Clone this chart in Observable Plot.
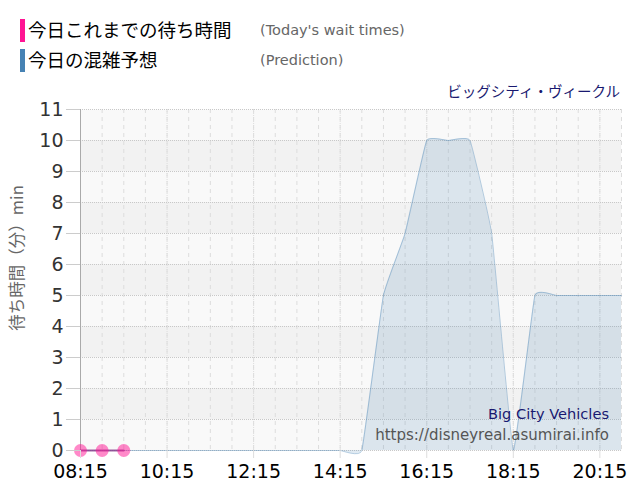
<!DOCTYPE html>
<html>
<head>
<meta charset="utf-8">
<script src="https://cdn.jsdelivr.net/npm/d3@7"></script>
<script src="https://cdn.jsdelivr.net/npm/@observablehq/plot@0.6"></script>
<style>
  html, body { margin: 0; padding: 0; background: #fff; }
  #wrap { position: relative; width: 640px; height: 500px; overflow: hidden; }
  #chart { position: absolute; left: 0; top: 0; }
  .leg { position: absolute; left: 20px; height: 23px; white-space: nowrap; }
  .leg .bar { position: absolute; left: 0; top: 0; width: 5px; height: 23px; }
  .leg .jp { position: absolute; left: 8px; top: -1px; font-family: "Noto Sans CJK JP", sans-serif; font-size: 18.5px; line-height: 23px; color: #000; }
  .leg .en { position: absolute; left: 240px; top: 0; font-family: "DejaVu Sans", sans-serif; font-size: 14.5px; line-height: 23px; color: #666; }
  .ov { position: absolute; white-space: nowrap; text-align: right; }
</style>
</head>
<body>
<div id="wrap">
  <div id="chart"></div>
  <div class="leg" style="top:19px"><div class="bar" style="background:#ff1493"></div><div class="jp">今日これまでの待ち時間</div><div class="en">(Today's wait times)</div></div>
  <div class="leg" style="top:49px"><div class="bar" style="background:#4682b4"></div><div class="jp">今日の混雑予想</div><div class="en">(Prediction)</div></div>
  <div class="ov" style="right:20px; top:80px; font-family:'Noto Sans CJK JP',sans-serif; font-size:14.5px; color:#191970;">ビッグシティ・ヴィークル</div>
  <div class="ov" style="right:31px; top:405px; font-family:'DejaVu Sans',sans-serif; font-size:14.6px; color:#191970;">Big City Vehicles</div>
  <div class="ov" style="right:31px; top:426px; font-family:'DejaVu Sans',sans-serif; font-size:15px; color:#555;">https://disneyreal.asumirai.info</div>
</div>
<script>
// ---- data ----
const predTimes = ["08:15","08:45","09:15","09:45","10:15","10:45","11:15","11:45","12:15","12:45","13:15","13:45","14:15","14:45","15:15","15:45","16:15","16:45","17:15","17:45","18:15","18:45","19:15","19:45","20:15","20:45"];
const predValues = [0,0,0,0,0,0,0,0,0,0,0,0,0,0,5,7,10,10,10,7,0,5,5,5,5,5];
const waitTimes = ["08:15","08:45","09:15"];
const waitValues = [0,0,0];
const xTickLabels = ["08:15","10:15","12:15","14:15","16:15","18:15","20:15"];
const yTicks = [0,1,2,3,4,5,6,7,8,9,10,11];
const bandStarts = [1,3,5,7,9];

const toDate = s => new Date(Date.UTC(2024, 0, 1, +s.slice(0, 2), +s.slice(3, 5)));
const pred = predTimes.map((t, i) => ({t: toDate(t), v: predValues[i]}));
const wait = waitTimes.map((t, i) => ({t: toDate(t), v: waitValues[i]}));
const xStart = toDate(predTimes[0]);
const xEnd = toDate(predTimes[predTimes.length - 1]);
const fmt = d3.utcFormat("%H:%M");

const chart = Plot.plot({
  width: 640,
  height: 500,
  marginTop: 109,
  marginBottom: 50,
  marginLeft: 80,
  marginRight: 19,
  style: {background: "transparent", overflow: "visible"},
  x: {type: "utc", domain: [xStart, xEnd]},
  y: {domain: [0, 11]},
  marks: [
    Plot.frame({fill: "#f9f9f9", stroke: "none"}),
    Plot.rect(bandStarts, {x1: () => xStart, x2: () => xEnd, y1: d => d, y2: d => d + 1, fill: "#f2f2f2"}),
    Plot.ruleX(predTimes.map(toDate), {stroke: "#dddddd", strokeDasharray: "4,4"}),
    Plot.ruleX(xTickLabels.map(toDate), {stroke: "#dddddd", strokeDasharray: "1,1", y1: 0, y2: 11}),
    Plot.ruleY(yTicks, {stroke: "#c8c8c8", strokeDasharray: "1,1"}),
    Plot.areaY(pred, {x: "t", y: "v", curve: "cardinal", tension: 0.72, fill: "#4682b4", fillOpacity: 0.17}),
    Plot.lineY(pred, {x: "t", y: "v", curve: "cardinal", tension: 0.72, stroke: "#4682b4", strokeOpacity: 0.4, strokeWidth: 1}),
    Plot.ruleX([xStart], {stroke: "#aaaaaa", y1: 0, y2: 11}),
    Plot.lineY(wait, {x: "t", y: "v", stroke: "#8a3a8a", strokeOpacity: 0.8, strokeWidth: 2}),
    Plot.dot(wait, {x: "t", y: "v", r: 6.5, fill: "#ff1493", fillOpacity: 0.5, stroke: "none"}),
    Plot.axisX({
      ticks: xTickLabels.map(toDate),
      tickFormat: fmt,
      tickSize: 8,
      tickPadding: 6,
      stroke: "#dddddd",
      fill: "#000",
      fontSize: 19,
      fontFamily: "DejaVu Sans",
      label: null
    }),
    Plot.axisY({
      ticks: yTicks,
      tickSize: 14,
      tickPadding: 3,
      stroke: "#cccccc",
      fill: "#333",
      fontSize: 19,
      fontFamily: "DejaVu Sans",
      label: null
    }),
    Plot.text(["待ち時間（分）min"], {
      frameAnchor: "left",
      textAnchor: "middle",
      dx: -63,
      dy: -22,
      rotate: -90,
      fontSize: 16.5,
      fill: "#666",
      fontFamily: "Noto Sans CJK JP"
    })
  ]
});
document.getElementById("chart").appendChild(chart);
</script>
</body>
</html>
